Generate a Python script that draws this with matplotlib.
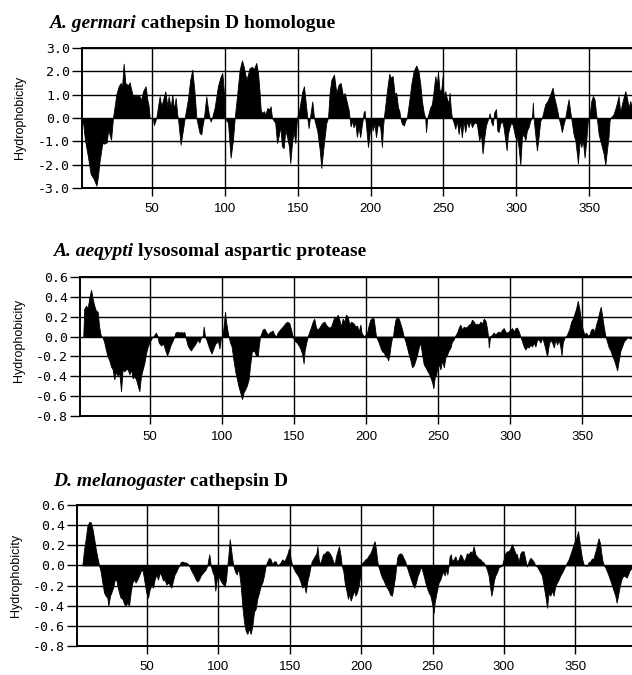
import matplotlib
matplotlib.use("Agg")
import matplotlib.pyplot as plt

W, H = 632, 675

# ---------------- data (residue position, hydrophobicity) ----------------
res_germari = [2,3,4,6,8,10,12,13,14,16,17,19,20,22,23.3,
 25.6,27.2,28.6,29.5,30.6,31.8,33.6,34.7,35.9,37,39.3,41.6,42.7,43.9,45.7,46.9,47.8,48.5,
 50.7,51.4,53,
 55.3,56.5,58.3,59.2,60.6,61.5,62.9,64,65.1,66.3,67.4,67.9,
 69.7,71.3,72.5,
 74.7,76.3,77.7,79.3,80.5,
 82.7,83.9,84.6,85.7,
 87.3,88.5,89.6,90.3,91.2,
 93,95.3,97.2,98.3,99.4,99.9,
 102.2,104,105.6,106.8,
 108.6,110.2,111.8,113.2,114.8,115.9,117,118.6,120,121.6,122.8,123.9,124.6,125.5,126.9,127.8,129.2,130.5,131.4,132.4,
 134.6,135.8,136.9,138.1,139.2,140.4,141.5,142.9,144,144.9,146.1,147.2,148.4,149.5,
 150.9,152,153.2,154.3,155.4,156.6,
 157.5,158.4,
 160,161.2,
 163.5,165.1,166.2,168,169.6,170.8,
 171.9,173.1,174.9,176.5,178.1,179.5,181.1,182.2,183.3,184.9,185.6,
 186.3,187.5,188.3,189.5,190.6,191.8,192.9,194.1,194.8,195.2,195.9,196.3,196.8,198.2,199.3,200.5,201.4,202.7,203.7,205,206.6,207.8,208.5,209.1,
 211.2,212.8,213.9,215.1,216.5,217.6,218.8,219.7,220.4,
 221.5,222.9,223.8,224.9,
 226.5,227.9,229.5,231.3,232.9,234.1,235.2,236.4,237.5,
 238,238.9,
 240.9,242.1,243.2,244.4,245.5,246.2,247.3,248.5,249.4,250.1,251.2,252.4,253.5,254.2,255.1,255.8,
 256.9,258.1,259.2,260.4,261.5,262.6,263.8,264.9,266.1,267.2,268.4,269.5,271.3,272.9,274.5,275.7,276.8,278,279.1,280.2,280.9,281.6,282.3,282.8,283.7,284.4,284.8,286,286.4,286.9,287.8,288.9,290.1,291.2,292.4,293.3,294.2,295.3,296.5,297.6,299.2,300.4,301.5,302.7,303.8,304.9,306.1,307.2,308.4,309.5,310.7,311.3,311.8,312.9,314.1,315.2,316.4,317.5,
 319.8,321.4,323.2,324.8,326,327.1,328.3,329,
 330.1,331.2,332.4,333.5,
 334.7,335.8,337,337.6,
 339.2,340.4,341.5,342.2,342.9,343.6,344.5,345.6,346.8,347.9,349,350,
 351.4,352.5,353.6,354.8,355.2,
 356.4,357.5,358.7,359.8,361,362.1,363.2,363.9,364.6,
 366.7,367.8,369,370.1,371.2,372.4,373.5,374.7,375.8,377,378.1,379.2,381]
hyd_germari = [0,-0.3,-0.9,-1.6,-2.4,-2.6,-2.9,-2.5,-1.9,-1.07,-1.1,-1.05,-0.5,-0.93,0,
 1.0,1.36,1.5,1.3,2.33,1.5,1.4,1.53,1.2,0.93,0.96,0.93,0.78,1.14,1.36,0.78,0.5,0,
 0,-0.3,0,
 0.93,0.5,0.93,1.14,0.5,0.93,0.43,1.0,0.36,0.86,0.14,0,
 -1.14,-0.5,0,
 0.79,1.64,2.07,1.07,0,
 -0.64,-0.7,-0.36,0,
 0.93,0.36,0,-0.15,0,
 0.43,1.36,1.79,1.93,1.1,0,
 -0.2,-1.7,-0.93,0,
 1.07,2.07,2.47,2.14,1.64,1.86,2.14,2.19,2.1,2.36,1.93,1.07,0.36,0.21,0.29,0.14,0.43,0.36,0.5,0,
 -0.21,-1.07,-0.79,-0.36,-1.21,-1.29,-0.5,-0.86,-1.21,-1.93,-1.07,-0.57,-1.07,0,
 0.29,0.71,1.14,1.36,0.71,0,
 -0.43,0,
 0.71,0,
 -0.57,-1.36,-2.14,-1.07,-0.21,0,
 1.07,1.64,1.86,1.07,1.43,1.5,0.93,1.07,0.79,0.36,0,
 -0.36,-0.1,-0.4,-0.18,-0.8,-0.39,-0.82,-0.25,0,0.24,0.31,0,-0.25,-1.24,-0.68,-0.11,-0.54,-0.25,-0.82,-0.25,-0.39,-1.24,-0.39,0,
 1.15,1.9,1.72,1.8,1.01,1.08,0.45,0.3,0,
 -0.25,-0.32,-0.11,0,
 0.73,1.44,2.0,2.25,2.0,1.44,0.73,0.24,0,
 -0.6,0,
 0.45,0.59,1.15,1.79,1.44,2.0,1.15,1.23,1.79,0.87,1.15,0.8,0.66,1.08,0.31,0,
 -0.18,-0.46,-0.11,-0.68,-0.18,-0.82,-0.11,-0.6,-0.11,-0.39,-0.11,-0.39,-0.18,-0.25,-0.96,-0.68,-1.52,-0.82,-0.32,-0.11,0,0.2,0,-0.18,-0.32,0,0.24,0.38,0,-0.54,-0.6,-0.25,-0.11,-0.39,-0.96,-1.38,-0.68,-0.39,-0.18,-0.32,-0.82,-0.82,-1.24,-2.0,-0.82,-0.68,-0.96,-0.54,-0.39,-0.11,0,0.66,0,-0.68,-1.38,-0.82,-0.11,0,
 0.59,0.73,1.01,1.3,0.87,0.59,0.24,0,
 -0.25,-0.6,-0.25,0,
 0.45,0.8,0.24,0,
 -0.68,-0.96,-1.52,-1.95,-1.38,-0.89,-1.24,-0.96,-1.7,-0.96,-0.11,0,
 0.73,0.94,0.8,0.1,0,
 -0.68,-0.96,-1.24,-1.52,-2.0,-1.38,-0.82,-0.11,0,
 0.17,0.38,0.66,0.94,0.24,0.59,0.87,1.15,0.87,0.45,0.73,0.45,0]

res_aegypti = [4,4.7,5.9,7.1,8.2,9.4,10.5,11.7,12.8,14,15.1,16.3,
 17.5,18.6,19.8,20.9,22.1,23.2,24.4,25.5,26.7,27.9,29,30.2,31.3,32.5,33.6,34.8,36,37.1,38.3,39.4,40.6,41.7,42.9,44,45.2,46.3,47.5,48.7,49.8,51.7,52.6,
 54.4,55.6,
 56.3,57.9,59.5,60.9,62.1,63.2,64.4,66,67.2,
 67.9,69.5,70.6,71.8,72.9,74.1,74.8,
 76.4,77.6,78.7,79.9,81,82.2,83.3,84.5,85.6,86.8,
 87.5,88.4,
 89.6,90.7,91.9,93,94.2,95.6,96.5,97.4,98.4,99.5,100.2,
 101.1,102.3,103,104.1,104.8,
 105.8,106.9,108.1,109.5,110.6,111.8,113,114.1,115.2,116.4,117.5,118.7,119.6,121,122.6,123.8,125,125.6,126.6,
 128.4,129.6,130.7,131.9,133,134.2,135.3,136.5,137.7,138.8,140.4,142.3,144.1,145.5,146.9,148.1,149.2,
 150.4,152,153.4,154.5,155.7,156.8,157.5,158.5,159.6,
 160.8,162,163.1,164.2,165.4,166.5,167.7,168.9,170,171.2,172.3,173.5,174.6,175.8,177,178.1,179.3,180.4,181.6,182.7,183.9,185.1,186.2,187.4,188.5,189.7,190.8,191.6,192.7,193.9,195,196.2,196.9,197.8,198.7,
 200.8,202,203.1,204.3,205.4,206.1,207,
 208.9,210,211.2,212.4,213.5,214.7,215.4,216.3,217.2,218.1,218.8,
 219.5,220.5,221.6,222.8,223.9,225.1,226.2,
 227.4,228.5,229.7,230.9,232,233.2,234.3,235.5,236.6,237.8,238.9,240.1,241.3,242.4,243.6,244.7,245.9,246.8,247.7,248.7,249.6,250.5,251.7,252.8,254,255.1,256.3,257.4,258.6,259.7,260.9,261.6,
 263.2,264.4,265.5,266.7,267.8,269,270.2,271.3,272.5,273.6,274.8,275.9,277.1,278.2,279.4,280.6,281.7,282.9,284,284.7,
 285.2,286.1,
 287.5,288.6,289.8,290.9,292.1,293.3,294.4,295.6,296.7,297.9,299,300.2,301.4,302.5,303.7,304.8,306,307.1,
 308.3,309.4,310.6,311.8,312.9,314.1,315.2,316.4,317.5,318.7,319.8,321,322.2,323.3,324.5,325.6,326.8,327.9,329.1,330.3,331.4,332.6,333.7,334.9,335.6,336.5,337.7,338.8,
 340,341.1,342.3,343.4,344.6,345.7,346.9,348,349.2,350.4,351.5,352.7,353.8,355,356.1,357.3,358.5,359.6,360.8,361.9,362.8,363.8,364.9,366.1,
 367.2,368.4,369.6,370.7,371.9,373,374.2,375.3,376.5,377.6,378.8,380,381.1,382.3,383.4,384.6]
hyd_aegypti = [0,0.28,0.31,0.29,0.39,0.47,0.38,0.31,0.26,0.25,0.09,0,
 -0.01,-0.06,-0.14,-0.2,-0.24,-0.3,-0.33,-0.43,-0.35,-0.4,-0.36,-0.55,-0.33,-0.35,-0.33,-0.33,-0.38,-0.33,-0.42,-0.4,-0.43,-0.49,-0.55,-0.4,-0.33,-0.27,-0.17,-0.1,-0.06,-0.01,0,
 0.04,0,
 -0.06,-0.09,-0.07,-0.14,-0.19,-0.15,-0.09,-0.04,0,
 0.04,0.05,0.04,0.045,0.04,0.045,0,
 -0.09,-0.12,-0.14,-0.11,-0.09,-0.06,-0.03,-0.06,-0.01,0,
 0.1,0,
 -0.04,-0.09,-0.14,-0.17,-0.12,-0.07,-0.06,-0.04,-0.12,-0.01,0,
 0.07,0.25,0.15,0.05,0,
 -0.06,-0.1,-0.23,-0.36,-0.43,-0.51,-0.57,-0.63,-0.56,-0.53,-0.49,-0.43,-0.3,-0.14,-0.15,-0.19,-0.2,-0.11,0,
 0.07,0.08,0.05,0.02,0.04,0.05,0.06,0.02,0,0.04,0.07,0.1,0.135,0.15,0.135,0.07,0,
 -0.04,-0.06,-0.09,-0.12,-0.17,-0.27,-0.14,-0.07,0,
 0.05,0.1,0.15,0.18,0.09,0.07,0.09,0.12,0.14,0.15,0.12,0.1,0.09,0.1,0.15,0.2,0.18,0.22,0.17,0.1,0.18,0.15,0.22,0.2,0.12,0.15,0.14,0.13,0.1,0.11,0.05,0.12,0.04,0.02,0,
 0.04,0.12,0.17,0.19,0.18,0.1,0,
 -0.06,-0.11,-0.15,-0.16,-0.2,-0.21,-0.24,-0.18,-0.08,-0.01,0,
 0.09,0.17,0.2,0.18,0.13,0.07,0,
 -0.05,-0.11,-0.18,-0.24,-0.31,-0.29,-0.24,-0.18,-0.11,-0.06,-0.18,-0.28,-0.31,-0.34,-0.37,-0.41,-0.46,-0.52,-0.41,-0.38,-0.31,-0.28,-0.33,-0.24,-0.31,-0.21,-0.18,-0.14,-0.11,-0.05,-0.03,0,
 0.04,0.09,0.12,0.07,0.1,0.09,0.1,0.12,0.13,0.17,0.15,0.12,0.13,0.12,0.15,0.13,0.18,0.16,0.08,0,
 -0.11,0,
 0.02,0.04,0.02,0.04,0.05,0.04,0.07,0.085,0.05,0.04,0.05,0.07,0.085,0.05,0.085,0.09,0.05,0,
 -0.05,-0.1,-0.13,-0.1,-0.11,-0.08,-0.1,-0.06,-0.1,-0.03,-0.03,-0.06,-0.01,-0.06,-0.13,-0.2,-0.08,-0.03,-0.06,-0.11,-0.03,-0.08,-0.03,-0.11,-0.19,-0.06,-0.01,0,
 0.04,0.08,0.15,0.18,0.23,0.28,0.36,0.28,0.15,0.07,0.02,0.04,0.01,0.02,0.07,0.08,0.05,0.12,0.18,0.25,0.3,0.21,0.1,0,
 -0.05,-0.11,-0.14,-0.19,-0.23,-0.28,-0.34,-0.24,-0.14,-0.1,-0.05,-0.03,-0.01,-0.01,-0.02,-0.01]

res_melano = [4.8,6,7.1,8.3,9.5,10.6,11.8,13,14.1,15.3,16.5,
 17.6,18.8,20,21.1,22.3,23,24.2,25.1,26.3,27.4,28.6,29.3,30.5,31.6,32.8,34,35.1,36.3,37.5,38.6,39.8,41,42.1,43.3,44.5,45.6,46.8,47.5,48.4,49.6,50.8,51.9,53.1,54.3,55.4,56.6,57.8,58.9,60.1,61.3,62.4,63.6,64.8,65.9,67.1,68.3,69.4,70.6,71.8,72.7,
 73.6,74.8,75.9,77.1,78.3,79.5,
 80.7,81.8,83,84.2,85.3,86.5,87.7,88.8,90,91.2,92.3,
 93,93.7,94.7,
 95.8,97,97.9,98.9,100,101.2,102.4,103.5,104.5,105.4,106.3,
 107,108,108.7,109.6,110.5,
 111.7,112.9,113.8,114.5,115.7,116.8,118,119.2,120.3,121.5,122.7,123.8,125,126.2,127.3,128.5,129.7,130.8,132,133.2,
 134.3,135.5,136.7,137.8,139,140.2,141.3,142.5,143.7,144.8,146,147.2,148.3,149.5,150.7,151.8,
 153,154.2,155.3,156.5,157.7,158.9,160,161.2,162.4,163.5,164.7,
 165.4,166.6,167.5,168.7,169.4,170.3,171.2,172.2,173.3,174.5,175.7,176.8,178,179.2,180.3,181.5,182.4,183.4,184.5,185.7,186.4,
 187.6,188.5,189.7,190.8,191.8,192.7,193.9,195,196,197.1,198.3,199.4,200.1,
 201.1,202,202.9,204.1,205.3,206.4,207.6,208.8,209.5,210.4,211.1,211.8,
 212.3,213.4,214.6,215.8,216.9,218.1,219.3,220.4,221.6,222.8,223.9,224.6,
 225.3,226.3,227.4,228.6,229.8,230.9,231.6,
 232.6,233.7,234.9,236.1,237.3,238.4,239.6,240.8,241.7,242.6,243.8,245,246.1,247.3,248.5,249.6,250.8,251.5,252.4,253.4,254.3,255.5,256.6,257.6,258.5,259.4,260.4,261.3,
 262,262.9,263.6,264.8,266,267.1,268.3,269.5,270.6,271.8,273,274.1,275.3,276.5,277.6,278.8,280,281.1,282.3,283.5,284.6,285.8,287,
 288.1,289.3,290.2,291.2,292.1,293,294,295.1,296.3,297.5,298.6,
 299.8,301,302.1,303.3,304.5,305.6,306.8,308,309.1,310.3,311.5,312.6,313.8,315,316.1,317.3,318.5,319.6,320.8,322,
 323.2,324.3,325.5,326.6,327.8,329,330.2,331.3,332.5,333.7,334.8,336,337.2,338.3,339.5,340.7,341.8,343,
 344.2,345.3,346.5,347.7,348.8,350,351.2,351.9,352.8,353.7,354.7,355.8,357,358.2,359.3,360.5,361.7,362.6,363.5,364.5,365.4,366.3,367.3,368.2,369.1,370.1,
 371,372.2,373.3,374.5,375.7,376.8,378,378.9,379.9,380.8,381.7,382.7,384,386,388,389.7]
hyd_melano = [0,0.16,0.26,0.39,0.43,0.43,0.37,0.27,0.17,0.08,0,
 -0.06,-0.17,-0.27,-0.3,-0.32,-0.4,-0.3,-0.27,-0.22,-0.15,-0.14,-0.2,-0.27,-0.32,-0.33,-0.38,-0.4,-0.37,-0.4,-0.27,-0.17,-0.14,-0.17,-0.14,-0.1,-0.06,-0.04,-0.09,-0.17,-0.27,-0.32,-0.24,-0.2,-0.22,-0.14,-0.09,-0.14,-0.07,-0.1,-0.15,-0.14,-0.19,-0.17,-0.19,-0.22,-0.15,-0.09,-0.06,-0.02,0,
 0.03,0.04,0.03,0.03,0.02,0,
 -0.04,-0.07,-0.1,-0.14,-0.16,-0.14,-0.1,-0.08,-0.06,-0.04,0,
 0.06,0.11,0,
 -0.06,-0.1,-0.25,-0.14,-0.1,-0.14,-0.17,-0.19,-0.21,-0.14,0,
 0.09,0.26,0.19,0.08,0,
 -0.06,-0.09,-0.04,-0.06,-0.2,-0.4,-0.56,-0.65,-0.68,-0.63,-0.68,-0.6,-0.46,-0.43,-0.33,-0.27,-0.2,-0.17,-0.1,0,
 0.04,0.075,0.06,0.01,0.04,0.04,0,0.01,0.03,0.06,0.04,0.07,0.11,0.17,0.06,0,
 -0.04,-0.07,-0.09,-0.12,-0.17,-0.22,-0.19,-0.27,-0.15,-0.09,0,
 0.04,0.07,0.09,0.12,0.19,0.06,0.01,0.06,0.11,0.12,0.14,0.14,0.12,0.09,0.04,0.01,0.09,0.14,0.19,0.09,0,
 -0.06,-0.17,-0.25,-0.33,-0.28,-0.35,-0.3,-0.25,-0.3,-0.27,-0.2,-0.1,0,
 0.03,0.04,0.06,0.07,0.1,0.12,0.16,0.22,0.24,0.16,0.07,0,
 -0.02,-0.07,-0.12,-0.15,-0.19,-0.22,-0.25,-0.29,-0.3,-0.2,-0.1,0,
 0.08,0.11,0.12,0.11,0.07,0.04,0,
 -0.04,-0.09,-0.14,-0.19,-0.22,-0.17,-0.1,-0.06,-0.01,-0.04,-0.1,-0.17,-0.22,-0.27,-0.3,-0.37,-0.47,-0.37,-0.3,-0.23,-0.17,-0.14,-0.09,-0.06,-0.1,-0.04,-0.09,0,
 0.09,0.11,0.04,0.06,0.09,0.04,0.06,0.11,0.09,0.04,0.07,0.12,0.11,0.14,0.12,0.19,0.11,0.09,0.07,0.06,0.04,0.03,0,
 -0.04,-0.1,-0.2,-0.3,-0.24,-0.15,-0.1,-0.07,-0.02,-0.01,0,
 0.06,0.12,0.14,0.14,0.17,0.21,0.17,0.12,0.11,0.03,0.12,0.14,0.14,0.06,-0.01,0.04,0.075,0.06,0.04,0,
 -0.01,-0.04,-0.07,-0.1,-0.2,-0.3,-0.42,-0.27,-0.3,-0.25,-0.3,-0.2,-0.17,-0.14,-0.1,-0.07,-0.04,0,
 0.03,0.06,0.11,0.16,0.21,0.25,0.3,0.34,0.25,0.16,0.07,0.01,0,0,0.03,0.04,0.07,0.06,0.11,0.16,0.22,0.27,0.22,0.12,0.04,0,
 -0.02,-0.06,-0.1,-0.15,-0.2,-0.25,-0.3,-0.37,-0.3,-0.23,-0.17,-0.12,-0.1,-0.12,-0.05,-0.02]

titles = [("A. germari", "cathepsin D homologue"),
          ("A. aeqypti", "lysosomal aspartic protease"),
          ("D. melanogaster", "cathepsin D")]
ylabel = "Hydrophobicity"
xticks = [50, 100, 150, 200, 250, 300, 350]
yticks_a = [3.0, 2.0, 1.0, 0.0, -1.0, -2.0, -3.0]
yticks_b = [0.6, 0.4, 0.2, 0.0, -0.2, -0.4, -0.6, -0.8]

# ---------------- layout (pixels) ----------------
panels = [
    dict(res=res_germari, hyd=hyd_germari, left=82, top=48, bottom=188,
         xlim=(2.06, 379.3), yt=yticks_a, fmt="{:.1f}", title_y=28, title_x=49,
         ylab=(20, 117)),
    dict(res=res_aegypti, hyd=hyd_aegypti, left=79.5, top=277, bottom=416,
         xlim=(1.4, 384.5), yt=yticks_b, fmt="{:.1f}", title_y=256.5, title_x=53,
         ylab=(19, 340)),
    dict(res=res_melano, hyd=hyd_melano, left=77, top=505, bottom=646,
         xlim=(1.05, 389.7), yt=yticks_b, fmt="{:.1f}", title_y=486, title_x=53,
         ylab=(16, 575)),
]

fig = plt.figure(figsize=(W / 100, H / 100), dpi=100)
fig.patch.set_facecolor("white")

for p in panels:
    ax = fig.add_axes([p["left"] / W, 1 - p["bottom"] / H,
                       (W - p["left"]) / W, (p["bottom"] - p["top"]) / H])
    ax.fill_between(p["res"], p["hyd"], 0, color="black", lw=0.6, edgecolor="black")
    ax.set_xlim(*p["xlim"])
    ax.set_ylim(p["yt"][-1], p["yt"][0])
    ax.set_xticks(xticks)
    ax.set_xticklabels([str(t) for t in xticks], fontfamily="Liberation Sans", fontsize=9.5)
    ax.set_yticks(p["yt"])
    ax.set_yticklabels([p["fmt"].format(t) for t in p["yt"]],
                       fontfamily="DejaVu Sans Mono", fontsize=9.5)
    ax.grid(True, color="black", lw=1.0)
    ax.set_axisbelow(False)
    for s in ["left", "top", "bottom"]:
        ax.spines[s].set_linewidth(1.4)
        ax.spines[s].set_color("black")
    ax.spines["right"].set_visible(False)
    ax.tick_params(axis="y", direction="out", length=7, width=1.0, pad=1.5, colors="black")
    ax.tick_params(axis="x", direction="out", length=6, width=1.0, pad=5, colors="black")
    fig.text(p["ylab"][0] / W, 1 - p["ylab"][1] / H, ylabel, rotation=90,
             ha="center", va="center", fontfamily="Liberation Sans", fontsize=9)

renderer = fig.canvas.get_renderer()
for p, (ital, rest) in zip(panels, titles):
    t1 = fig.text(p["title_x"] / W, 1 - p["title_y"] / H, ital,
                  fontfamily="Liberation Serif", fontweight="bold", fontstyle="italic",
                  fontsize=14, va="baseline", ha="left")
    bb = t1.get_window_extent(renderer)
    fig.text((bb.x1 + 5) / W, 1 - p["title_y"] / H, rest,
             fontfamily="Liberation Serif", fontweight="bold",
             fontsize=14, va="baseline", ha="left")

fig.savefig("out.png", dpi=100)
